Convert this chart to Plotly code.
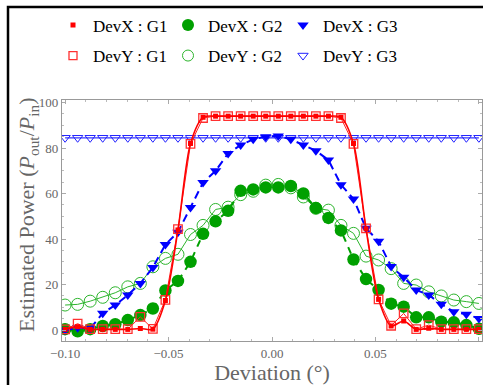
import plotly.graph_objects as go

# ---- data ----
deviation = [-0.1, -0.09394, -0.08788, -0.08182, -0.07576, -0.0697, -0.06364, -0.05758,
             -0.05152, -0.04545, -0.03939, -0.03333, -0.02727, -0.02121, -0.01515, -0.00909,
             -0.00303, 0.00303, 0.00909, 0.01515, 0.02121, 0.02727, 0.03333, 0.03939,
             0.04545, 0.05152, 0.05758, 0.06364, 0.0697, 0.07576, 0.08182, 0.08788,
             0.09394, 0.1]

devx_g1 = [0.3, 1.5, 0.3, 0.3, 0.3, 0.3, 0.7, 0.4, 13.0, 44.0, 82.0, 93.5, 94.0, 94.0, 94.0, 94.0,
           94.0, 94.0, 94.0, 94.0, 94.0, 94.0, 93.5, 82.0, 44.5, 13.5, 1.8, 4.0, 0.3, 0.8,
           0.3, 0.3, 0.3, 0.3]
devy_g1 = [0.3, 2.8, 0.4, 0.4, 0.4, 0.4, 5.8, 0.5, 13.3, 44.4, 81.8, 93.2, 94.0, 94.0, 94.0, 94.0,
           94.0, 94.0, 94.0, 94.0, 94.0, 94.0, 93.2, 81.8, 44.7, 13.5, 1.9, 7.3, 0.4, 2.2,
           0.4, 0.4, 0.4, 0.4]
devx_g2 = [0.4, -0.5, 0.4, 1.8, 2.6, 4.4, 6.6, 9.5, 17.4, 21.6, 30.0, 42.3, 47.8, 52.4, 61.2, 61.8,
           62.7, 62.7, 63.3, 60.0, 53.6, 49.3, 43.8, 31.0, 22.4, 17.6, 11.6, 10.3, 5.6, 5.6,
           3.7, 3.4, 2.2, 0.6]
devy_g2 = [11.0, 11.3, 12.7, 14.4, 16.4, 19.0, 20.5, 27.8, 31.5, 33.3, 42.0, 46.0, 53.0, 54.0, 59.5, 61.0,
           63.7, 64.0, 62.5, 58.5, 53.5, 52.7, 46.0, 42.5, 32.5, 30.8, 27.0, 20.5, 19.8, 16.8,
           15.0, 13.2, 12.5, 11.7]
devx_g3 = [0.0, 1.0, 0.7, 7.4, 11.0, 15.4, 20.5, 27.5, 37.6, 43.0, 53.9, 64.8, 70.0, 77.6, 81.3, 83.8,
           85.0, 85.3, 83.8, 81.3, 78.8, 74.7, 63.9, 57.6, 44.7, 39.0, 27.9, 23.2, 17.6, 15.4,
           11.4, 8.0, 7.0, 5.1]
devy_g3 = [84.5, 84.5, 84.5, 84.5, 84.5, 84.5, 84.5, 84.5, 84.5, 84.5, 84.5, 84.5, 84.5, 84.5, 84.5, 84.5,
           84.5, 84.5, 84.5, 84.5, 84.5, 84.5, 84.5, 84.5, 84.5, 84.5, 84.5, 84.5, 84.5, 84.5,
           84.5, 84.5, 84.5, 84.5]

x_ticks = [-0.10, -0.05, 0.00, 0.05, 0.10]
x_tick_labels = ["\u22120.10", "\u22120.05", "0.00", "0.05", "0.10"]
y_ticks = [0, 20, 40, 60, 80, 100]

RED = "#ff0000"
GREEN = "#00a000"
GREEN_L = "#2db52d"
BLUE = "#0000ff"
FONT = "Liberation Serif, Times New Roman, serif"

fig = go.Figure()

# DevY : G3 (flat line, open triangles)
fig.add_trace(go.Scatter(x=deviation, y=devy_g3, mode="lines+markers", showlegend=False,
                         line=dict(color="#3333ff", width=1.2),
                         marker=dict(symbol="triangle-down-open", size=9, color="#2222ff",
                                     line=dict(width=1, color="#2222ff"))))
# DevY : G2
fig.add_trace(go.Scatter(x=deviation, y=devy_g2, mode="lines+markers", showlegend=False,
                         line=dict(color=GREEN_L, width=1),
                         marker=dict(symbol="circle-open", size=12, color=GREEN_L,
                                     line=dict(width=1, color=GREEN_L))))
# DevX : G2
fig.add_trace(go.Scatter(x=deviation, y=devx_g2, mode="lines+markers", showlegend=False,
                         line=dict(color=GREEN, width=2, dash="7px,6px"),
                         marker=dict(symbol="circle", size=12.5, color=GREEN)))
# DevX : G3
fig.add_trace(go.Scatter(x=deviation, y=devx_g3, mode="lines+markers", showlegend=False,
                         line=dict(color=BLUE, width=2, dash="8px,5px"),
                         marker=dict(symbol="triangle-down", size=10, color=BLUE)))
# DevY : G1
fig.add_trace(go.Scatter(x=deviation, y=devy_g1, mode="lines+markers", showlegend=False,
                         line=dict(color="#ff2020", width=1),
                         marker=dict(symbol="square-open", size=8.5, color="#ff3030",
                                     line=dict(width=1.3, color="#ff3030"))))
# DevX : G1
fig.add_trace(go.Scatter(x=deviation, y=devx_g1, mode="lines+markers", showlegend=False,
                         line=dict(color=RED, width=1.6, shape="spline", smoothing=0.8),
                         marker=dict(symbol="square", size=5, color=RED)))

# legend-only entries (markers only)
leg_x = [
    ("DevX : G1", dict(symbol="square", size=5, color=RED)),
    ("DevX : G2", dict(symbol="circle", size=12, color=GREEN)),
    ("DevX : G3", dict(symbol="triangle-down", size=10, color=BLUE)),
]
leg_y = [
    ("DevY : G1", dict(symbol="square-open", size=8, color="#ff3030", line=dict(width=1.3, color="#ff3030"))),
    ("DevY : G2", dict(symbol="circle-open", size=11, color=GREEN_L, line=dict(width=1, color=GREEN_L))),
    ("DevY : G3", dict(symbol="triangle-down-open", size=9, color="#2222ff", line=dict(width=1, color="#2222ff"))),
]
for name, mk in leg_x:
    fig.add_trace(go.Scatter(x=[None], y=[None], mode="markers", name=name, marker=mk,
                             legend="legend"))
for name, mk in leg_y:
    fig.add_trace(go.Scatter(x=[None], y=[None], mode="markers", name=name, marker=mk,
                             legend="legend2"))

L, R, T, B = 62, 1, 100, 44
W, H = 483, 385
pw, ph = W - L - R, H - T - B

def px2paper_x(px):
    return (px - L) / pw

def py2paper_y(py):
    return (H - B - py) / ph

axis_common = dict(showline=True, linecolor="#999999", linewidth=1.3, mirror="allticks",
                   ticks="inside", ticklen=4, tickcolor="#aaaaaa", showgrid=False, zeroline=False,
                   tickfont=dict(family=FONT, size=13, color="#666666"))

fig.update_layout(
    width=W, height=H,
    margin=dict(l=L, r=R, t=T, b=B, autoexpand=False),
    paper_bgcolor="white", plot_bgcolor="white",
    font=dict(family=FONT, color="#000000"),
    xaxis=dict(range=[-0.1015, 0.1015], tickvals=x_ticks, ticktext=x_tick_labels,
               minor=dict(ticks="inside", ticklen=2, dtick=0.01, tick0=0, tickcolor="#bbbbbb"),
               title=dict(text="Deviation (\u00b0)", font=dict(family=FONT, size=22, color="#666666"),
                          standoff=6),
               **axis_common),
    yaxis=dict(range=[-4.8, 101.1], tickvals=y_ticks,
               minor=dict(ticks="inside", ticklen=2, dtick=5, tick0=0, tickcolor="#bbbbbb"),
               **axis_common),
    annotations=[dict(text="Estimated Power (<i>P</i><sub>out</sub>/<i>P</i><sub>in</sub>)",
                      xref="paper", yref="paper", x=px2paper_x(28), y=py2paper_y(215),
                      xanchor="center", yanchor="middle", textangle=-90, showarrow=False,
                      font=dict(family=FONT, size=22, color="#666666"))],
    legend=dict(orientation="h", x=px2paper_x(53), xanchor="left", y=py2paper_y(25.5), yanchor="middle",
                font=dict(family=FONT, size=17, color="#000000"), entrywidth=70, entrywidthmode="pixels",
                bgcolor="rgba(0,0,0,0)", itemsizing="trace"),
    legend2=dict(orientation="h", x=px2paper_x(53), xanchor="left", y=py2paper_y(56), yanchor="middle",
                 font=dict(family=FONT, size=17, color="#000000"), entrywidth=70, entrywidthmode="pixels",
                 bgcolor="rgba(0,0,0,0)", itemsizing="trace"),
    shapes=[dict(type="rect", xref="paper", yref="paper",
                 x0=px2paper_x(8), x1=px2paper_x(600), y0=py2paper_y(500), y1=py2paper_y(7),
                 line=dict(color="black", width=2.5), fillcolor="rgba(0,0,0,0)", layer="above")],
)

fig.write_html("out.html", config={"displayModeBar": False},
               post_script="document.body.style.margin='0';document.body.style.overflow='hidden';")
